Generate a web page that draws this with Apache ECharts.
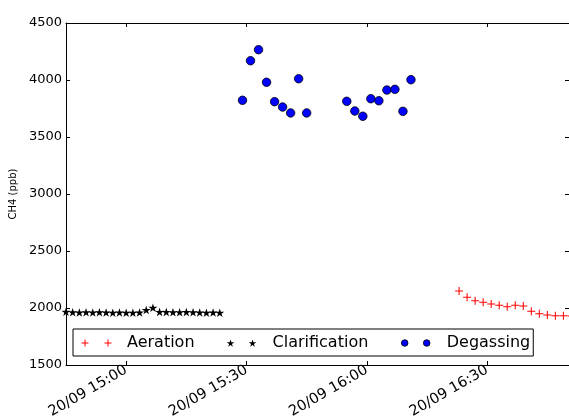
<!DOCTYPE html>
<html>
<head>
<meta charset="utf-8">
<script src="https://cdn.jsdelivr.net/npm/echarts@6/dist/echarts.min.js"></script>
<style>html,body{margin:0;padding:0;background:#fff}#c{width:569px;height:420px}</style>
</head>
<body>
<div id="c"></div>
<script>
// ---- data ----
const aerationTimes = ["16:23","16:25","16:27","16:29","16:31","16:33","16:35","16:37","16:39","16:41","16:43","16:45","16:47","16:49","16:51"];
const aerationValues = [2149,2094,2064,2050,2035,2024,2011,2024,2018,1971,1950,1939,1932,1932,1930];

const clarificationTimes = ["14:45:00","14:46:40","14:48:20","14:50:00","14:51:40","14:53:20","14:55:00","14:56:40","14:58:20","15:00:00","15:01:40","15:03:20","15:05:00","15:06:40","15:08:20","15:10:00","15:11:40","15:13:20","15:15:00","15:16:40","15:18:20","15:20:00","15:21:40","15:23:20"];
const clarificationValues = [1968,1962,1960,1962,1960,1962,1960,1958,1960,1958,1958,1960,1982,2003,1966,1964,1962,1962,1964,1962,1960,1958,1960,1958];

const degassingTimes = ["15:29","15:31","15:33","15:35","15:37","15:39","15:41","15:43","15:45","15:55","15:57","15:59","16:01","16:03","16:05","16:07","16:09","16:11"];
const degassingValues = [3822,4169,4266,3980,3810,3763,3711,4011,3711,3813,3728,3682,3836,3818,3912,3918,3725,4003];

const xTickTimes = ["15:00","15:30","16:00","16:30"];
const xTickLabelPrefix = "20/09 ";
const yMin = 1500, yMax = 4500, yStep = 500;
const xStart = "14:45", xEnd = "16:50:24";

function toMin(t){const p=t.split(":").map(Number);return p[0]*60+p[1]+(p[2]||0)/60;}
function pad(n){return (n<10?"0":"")+n;}
function fmt(m){const h=Math.floor(m/60+1e-9), mm=Math.round(m-h*60);return xTickLabelPrefix+pad(h)+":"+pad(mm);}
const pairs=(ts,vs)=>ts.map((t,i)=>[toMin(t),vs[i]]);

// ---- symbols ----
const plusPath='path://M-0.13,-1H0.13V-0.13H1V0.13H0.13V1H-0.13V0.13H-1V-0.13H-0.13Z';
const starPath='path://M0,-1L0.223,-0.307L0.951,-0.309L0.361,0.117L0.588,0.809L0,0.38L-0.588,0.809L-0.361,0.117L-0.951,-0.309L-0.223,-0.307Z';
function bboxPts(){return 'M0,0L0.01,0L0,0.01Z M41,9L40.99,9L41,8.99Z ';}
function plusAt(cx,cy,r,t){return `M${cx-t},${cy-r}H${cx+t}V${cy-t}H${cx+r}V${cy+t}H${cx+t}V${cy+r}H${cx-t}V${cy+t}H${cx-r}V${cy-t}H${cx-t}Z `;}
function starAt(cx,cy,r){const o=[[0,-1],[0.223,-0.307],[0.951,-0.309],[0.361,0.117],[0.588,0.809],[0,0.38],[-0.588,0.809],[-0.361,0.117],[-0.951,-0.309],[-0.223,-0.307]];return 'M'+o.map(p=>(cx+p[0]*r).toFixed(2)+','+(cy+p[1]*r).toFixed(2)).join('L')+'Z ';}
function circAt(cx,cy,r){return `M${cx-r},${cy} a${r},${r} 0 1,0 ${2*r},0 a${r},${r} 0 1,0 ${-2*r},0 Z `;}
const legPlus='path://'+bboxPts()+plusAt(4,4.5,3.5,0.5)+plusAt(27,4.5,3.5,0.5);
const legStar='path://'+bboxPts()+starAt(4,5,4)+starAt(26,5,4);
const legCirc='path://'+bboxPts()+circAt(4,4.5,3.3)+circAt(26,4.5,3.3);

const font='DejaVu Sans';
const xMin=toMin(xStart), xMax=toMin(xEnd);
const tickVals=xTickTimes.map(toMin);

const chart=echarts.init(document.getElementById('c'),null,{renderer:'canvas'});
chart.setOption({
  animation:false,
  backgroundColor:'#fff',
  grid:{left:66,right:0,top:23,bottom:55,containLabel:false,outerBoundsMode:'none'},
  legend:{
    left:73, top:329, orient:'horizontal',
    padding:[6,3,5,8], itemGap:32, itemWidth:41, itemHeight:9,
    borderColor:'#000', borderWidth:1, backgroundColor:'#fff',
    textStyle:{fontFamily:font,fontSize:16,color:'#000'},
    data:[
      {name:'Aeration',icon:legPlus,itemStyle:{color:'#ff0000',borderWidth:0}},
      {name:'Clarification',icon:legStar,itemStyle:{color:'#000',borderWidth:0}},
      {name:'Degassing',icon:legCirc,itemStyle:{color:'#0000ff',borderColor:'#000',borderWidth:0.8}}
    ]
  },
  xAxis:[{
    type:'value',min:xMin,max:xMax,position:'bottom',
    axisLine:{show:true,lineStyle:{color:'#000',width:1}},
    axisTick:{show:true,inside:true,length:4,customValues:tickVals,lineStyle:{color:'#000'}},
    axisLabel:{show:true,customValues:tickVals,formatter:v=>fmt(v),rotate:30,margin:4,fontFamily:font,fontSize:14.5,color:'#000'},
    splitLine:{show:false}
  },{
    type:'value',min:xMin,max:xMax,position:'top',
    axisLine:{show:true,lineStyle:{color:'#000',width:1}},
    axisTick:{show:true,inside:true,length:4,customValues:tickVals,lineStyle:{color:'#000'}},
    axisLabel:{show:false},splitLine:{show:false}
  }],
  yAxis:[{
    type:'value',min:yMin,max:yMax,interval:yStep,position:'left',
    name:'CH4 (ppb)',nameLocation:'middle',nameGap:37,
    nameTextStyle:{fontFamily:font,fontSize:10,color:'#000'},
    axisLine:{show:true,lineStyle:{color:'#000',width:1}},
    axisTick:{show:true,inside:true,length:4,lineStyle:{color:'#000'}},
    axisLabel:{margin:4,fontFamily:font,fontSize:13,color:'#000',formatter:v=>String(v)},
    splitLine:{show:false}
  },{
    type:'value',min:yMin,max:yMax,interval:yStep,position:'right',
    axisLine:{show:true,lineStyle:{color:'#000',width:1}},
    axisTick:{show:true,inside:true,length:4,lineStyle:{color:'#000'}},
    axisLabel:{show:false},splitLine:{show:false}
  }],
  series:[
    {name:'Aeration',type:'scatter',data:pairs(aerationTimes,aerationValues),symbol:plusPath,symbolSize:8,clip:false,
      itemStyle:{color:'#ff0000',opacity:1}},
    {name:'Clarification',type:'scatter',data:pairs(clarificationTimes,clarificationValues),symbol:starPath,symbolSize:9,symbolKeepAspect:true,clip:false,
      itemStyle:{color:'#000',opacity:1}},
    {name:'Degassing',type:'scatter',data:pairs(degassingTimes,degassingValues),symbol:'circle',symbolSize:8.5,clip:false,
      itemStyle:{color:'#0000ff',borderColor:'#000',borderWidth:0.8,opacity:1}}
  ]
});
</script>
</body>
</html>
